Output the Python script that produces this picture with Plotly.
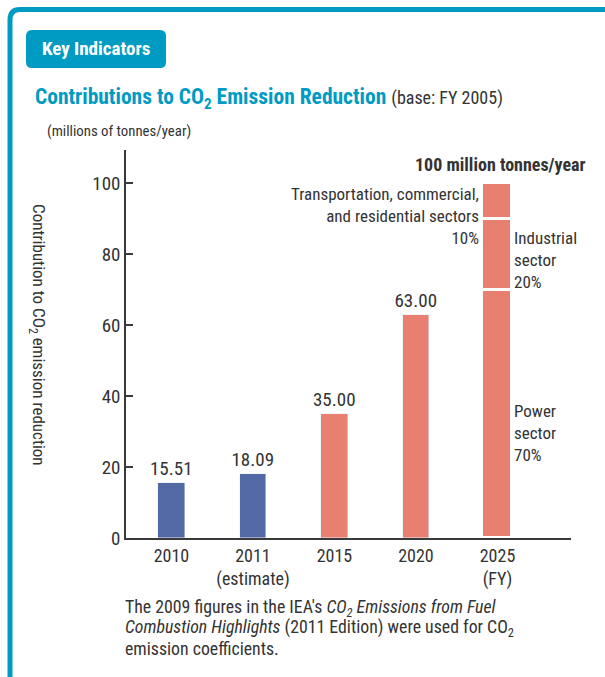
import plotly.graph_objects as go

# ---- data ----
years = ["2010", "2011<br>(estimate)", "2015", "2020", "2025<br>(FY)"]
actual_vals = [15.51, 18.09]          # blue bars
target_vals = [35.00, 63.00]          # salmon bars (2015, 2020)
sector_names = ["Power<br>sector<br>70%", "Industrial<br>sector<br>20%",
                "Transportation, commercial,<br>and residential sectors<br>10%"]
sector_vals_2025 = [70, 20, 10]
y_ticks = [0, 20, 40, 60, 80, 100]
footnote_lines = ["The 2009 figures in the IEA's <i>CO<sub>2</sub> Emissions from Fuel</i>",
                  "<i>Combustion Highlights</i> (2011 Edition) were used for CO<sub>2</sub>",
                  "emission coefficients."]

W, H = 605, 677
FONT = "Liberation Sans Narrow, Roboto Condensed, Arial Narrow, Roboto, sans-serif"
TEAL = "#009BC3"
BLUE = "#5369A5"
SALMON = "#E8806F"
TXT = "#333333"

def px(x):
    return x / W

def py(y):
    return 1 - y / H

xpos = list(range(len(years)))
fig = go.Figure()

label_font = dict(size=19, color=TXT, family=FONT)
fig.add_trace(go.Bar(x=xpos[0:2], y=actual_vals, marker_color=BLUE, width=0.33,
                     texttemplate="%{y:.2f}", textposition="outside", constraintext="none",
                     textfont=label_font, cliponaxis=False,
                     showlegend=False, hoverinfo="skip"))
fig.add_trace(go.Bar(x=xpos[2:4], y=target_vals, marker_color=SALMON, width=0.33,
                     texttemplate="%{y:.2f}", textposition="outside", constraintext="none",
                     textfont=label_font, cliponaxis=False,
                     showlegend=False, hoverinfo="skip"))
for v in sector_vals_2025:
    fig.add_trace(go.Bar(x=[xpos[4]], y=[v], marker=dict(color=SALMON, line=dict(color="white", width=3)),
                         width=0.368, showlegend=False, hoverinfo="skip"))

# sector labels
cum = 0
bottoms = []
for v in sector_vals_2025:
    bottoms.append(cum)
    cum += v
sfont = dict(size=17, color=TXT, family=FONT)
fig.add_annotation(x=xpos[4], y=bottoms[0] + 42, xref="x", yref="y", text=sector_names[0],
                   showarrow=False, xanchor="left", yanchor="top", align="left", xshift=15, yshift=-10,
                   font=sfont)
fig.add_annotation(x=xpos[4], y=bottoms[2], xref="x", yref="y", text=sector_names[1],
                   showarrow=False, xanchor="left", yanchor="top", align="left", xshift=15, yshift=-7,
                   font=sfont)
fig.add_annotation(x=xpos[4], y=cum, xref="x", yref="y", text=sector_names[2],
                   showarrow=False, xanchor="right", yanchor="top", align="right", xshift=-16, yshift=1,
                   font=sfont)
fig.add_annotation(x=xpos[4], y=cum, xref="x", yref="y", text="<b>100 million tonnes/year</b>",
                   showarrow=False, xanchor="center", yanchor="bottom", yshift=6, xshift=3,
                   font=dict(size=18, color=TXT, family=FONT))

# Frame and badge
fig.add_shape(type="path", xref="paper", yref="paper",
              path=f"M {px(10)},{py(720)} L {px(10)},{py(20)} Q {px(10)},{py(9.5)} {px(20)},{py(9.5)} L {px(640)},{py(9.5)}",
              line=dict(color=TEAL, width=5))
r = 6
x0, x1, y0, y1 = 26, 166, 30, 68
fig.add_shape(type="path", xref="paper", yref="paper",
              path=(f"M {px(x0+r)},{py(y0)} L {px(x1-r)},{py(y0)} Q {px(x1)},{py(y0)} {px(x1)},{py(y0+r)} "
                    f"L {px(x1)},{py(y1-r)} Q {px(x1)},{py(y1)} {px(x1-r)},{py(y1)} "
                    f"L {px(x0+r)},{py(y1)} Q {px(x0)},{py(y1)} {px(x0)},{py(y1-r)} "
                    f"L {px(x0)},{py(y0+r)} Q {px(x0)},{py(y0)} {px(x0+r)},{py(y0)} Z"),
              fillcolor=TEAL, line=dict(width=0))
fig.add_annotation(x=px(96), y=py(49), xref="paper", yref="paper", xanchor="center", yanchor="middle",
                   text="<b>Key Indicators</b>",
                   showarrow=False, font=dict(size=19, color="white", family=FONT))

# Title
fig.add_annotation(x=px(33), y=py(98), xref="paper", yref="paper", xanchor="left", yanchor="middle",
                   text=f"<b>Contributions to CO<sub>2</sub> Emission Reduction</b> "
                        f"<span style='color:{TXT};font-size:18px'>(base: FY 2005)</span>",
                   showarrow=False, font=dict(size=21.5, color=TEAL, family=FONT))
fig.add_annotation(x=px(45), y=py(131), xref="paper", yref="paper", xanchor="left", yanchor="middle",
                   text="(millions of tonnes/year)", showarrow=False,
                   font=dict(size=14.8, color=TXT, family=FONT))
# Y axis title (reads top to bottom)
fig.add_annotation(x=px(38), y=py(335), xref="paper", yref="paper", xanchor="center", yanchor="middle",
                   textangle=90,
                   text="Contribution to CO<sub>2</sub> emission reduction", showarrow=False,
                   font=dict(size=17, color=TXT, family=FONT))
# Footnote (one annotation per line to keep 20px line spacing)
for i, line in enumerate(footnote_lines):
    fig.add_annotation(x=px(124), y=py(608 + 20 * i), xref="paper", yref="paper",
                       xanchor="left", yanchor="middle", align="left", borderpad=0,
                       text=line, showarrow=False, font=dict(size=17.8, color=TXT, family=FONT))

fig.update_layout(
    width=W, height=H, autosize=False,
    margin=dict(l=0, r=0, t=0, b=0, pad=0, autoexpand=False),
    paper_bgcolor="white", plot_bgcolor="white",
    barmode="stack", bargap=0,
    font=dict(family=FONT, color=TXT),
    xaxis=dict(domain=[px(126), px(571)], range=[-0.558, 4.902], tickvals=xpos, ticktext=years,
               showline=True, linecolor="#3a3a3a", linewidth=2, ticks="", showgrid=False,
               zeroline=False, tickfont=dict(size=18, color=TXT, family=FONT), automargin=False,
               ticklabelstandoff=0, fixedrange=True),
    yaxis=dict(domain=[py(538), py(150)], range=[0, 109.4], tickvals=y_ticks,
               showline=True, linecolor="#3a3a3a", linewidth=1.5, ticks="inside", ticklen=7, automargin=False,
               tickcolor="#3a3a3a", tickwidth=1.5, showgrid=False, zeroline=False,
               tickfont=dict(size=19, color=TXT, family=FONT), ticklabelstandoff=0, fixedrange=True),
)

fig.write_html("out.html", config={"displayModeBar": False},
               post_script="document.body.style.margin='0';")
